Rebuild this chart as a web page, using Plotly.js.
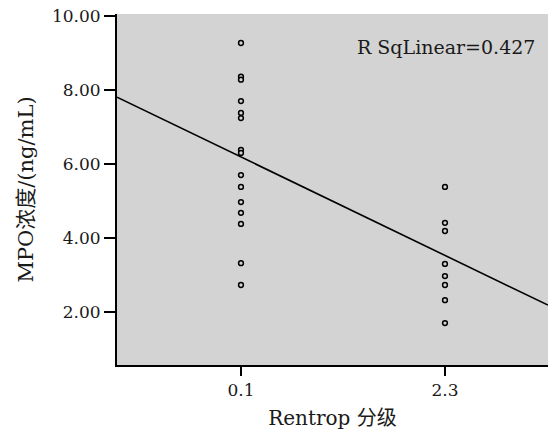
<!DOCTYPE html>
<html>
<head>
<meta charset="utf-8">
<script src="https://cdn.plot.ly/plotly-3.0.1.min.js"></script>
<style>html,body{margin:0;padding:0;background:#fff;}#chart{width:548px;height:430px;}</style>
</head>
<body>
<div id="chart"></div>
<script>
// Data
const categories = [0.1, 2.3];
const tickLabels = ['0.1', '2.3'];
const group1Values = [9.27, 8.36, 8.28, 7.70, 7.38, 7.24, 6.38, 6.30, 5.70, 5.38, 4.97, 4.68, 4.38, 3.32, 2.73];
const group2Values = [5.38, 4.41, 4.19, 3.30, 2.97, 2.73, 2.32, 1.70];
const fitAtCategories = [6.19, 3.53];
const yTickValues = [2, 4, 6, 8, 10];
const yTickLabels = ['2.00', '4.00', '6.00', '8.00', '10.00'];
const rSquaredText = 'R SqLinear=0.427';

const xRange = [-1.237, 3.411];
const slope = (fitAtCategories[1] - fitAtCategories[0]) / (categories[1] - categories[0]);
const fitX = xRange.slice();
const fitY = fitX.map(x => fitAtCategories[0] + slope * (x - categories[0]));

const serif = '"DejaVu Serif", "Noto Sans CJK SC", serif';
const textColor = '#1a1a1a';

const markerStyle = {symbol: 'circle', size: 4.8, color: '#d3d3d3', line: {color: '#000', width: 1.5}};

const traces = [
  {x: group1Values.map(() => categories[0]), y: group1Values, type: 'scatter', mode: 'markers', marker: markerStyle, hoverinfo: 'none'},
  {x: group2Values.map(() => categories[1]), y: group2Values, type: 'scatter', mode: 'markers', marker: markerStyle, hoverinfo: 'none'},
  {x: fitX, y: fitY, type: 'scatter', mode: 'lines', line: {color: '#000', width: 1.6}, hoverinfo: 'none'}
];

const layout = {
  width: 548, height: 430,
  margin: {l: 117, r: 0, t: 14, b: 65},
  paper_bgcolor: '#fff',
  plot_bgcolor: '#d3d3d3',
  showlegend: false,
  font: {family: serif, size: 17, color: textColor},
  xaxis: {
    range: xRange,
    tickvals: categories, ticktext: tickLabels,
    showgrid: false, zeroline: false,
    showline: true, linecolor: '#000', linewidth: 2,
    ticks: 'outside', ticklen: 9, tickwidth: 1.5, tickcolor: '#000',
    tickfont: {family: serif, size: 17, color: textColor},
    title: {text: 'Rentrop 分级', font: {family: serif, size: 20, color: textColor}, standoff: 12}
  },
  yaxis: {
    range: [0.568, 10.054],
    tickvals: yTickValues,
    ticktext: yTickLabels,
    showgrid: false, zeroline: false,
    showline: true, linecolor: '#000', linewidth: 2,
    ticks: 'outside', ticklen: 11, tickwidth: 1.5, tickcolor: '#000',
    tickfont: {family: serif, size: 17, color: textColor},
    title: {text: 'MPO浓度/(ng/mL)', font: {family: serif, size: 21, color: textColor}, standoff: 13}
  },
  annotations: [{
    xref: 'paper', yref: 'paper', x: 0.9745, y: 0.906,
    xanchor: 'right', yanchor: 'middle', showarrow: false,
    text: rSquaredText, font: {family: serif, size: 19, color: textColor}
  }]
};

Plotly.newPlot('chart', traces, layout, {staticPlot: true, displayModeBar: false});
</script>
</body>
</html>
